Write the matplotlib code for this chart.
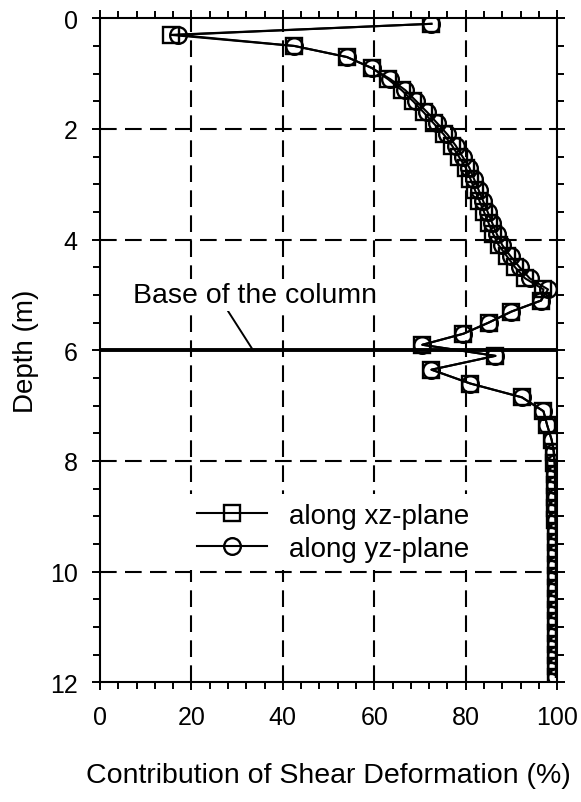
import numpy as np
import matplotlib
matplotlib.use("Agg")
import matplotlib.pyplot as plt
from matplotlib.ticker import MultipleLocator

plt.rcParams['font.family'] = ['Liberation Sans', 'DejaVu Sans']

# --- Data ---
depth = [0.1, 0.3, 0.5, 0.7, 0.9, 1.1, 1.3, 1.5, 1.7, 1.9,
         2.1, 2.3, 2.5, 2.7, 2.9, 3.1, 3.3, 3.5, 3.7, 3.9,
         4.1, 4.3, 4.5, 4.7, 4.9, 5.1, 5.3, 5.5, 5.7, 5.9,
         6.1, 6.35, 6.6, 6.85, 7.1, 7.35,
         7.62, 7.83, 8.03, 8.24, 8.44, 8.65, 8.85, 9.06, 9.26, 9.47,
         9.67, 9.88, 10.08, 10.29, 10.49, 10.7, 10.9, 11.1, 11.3, 11.5,
         11.7, 11.9]

shear_xz = [72.5, 15.5, 42.5, 54.0, 59.5, 63.0, 66.0, 68.5, 70.8, 73.0,
            75.2, 77.0, 78.5, 80.0, 81.0, 82.0, 83.0, 84.0, 85.0, 86.0,
            87.2, 89.0, 90.8, 93.0, 97.0, 96.5, 90.0, 85.0, 79.5, 70.5,
            86.5, 72.5, 81.0, 92.3, 97.0, 97.8,
            98.8, 99.2, 99.4, 99.5, 99.5, 99.6, 99.6, 99.6, 99.7, 99.7,
            99.7, 99.7, 99.7, 99.7, 99.7, 99.7, 99.7, 99.7, 99.7, 99.7,
            99.7, 99.7]

shear_yz = [72.5, 17.0, 42.5, 54.0, 59.5, 63.5, 66.8, 69.2, 71.6, 73.8,
            76.0, 77.8, 79.3, 80.8, 81.8, 82.8, 83.8, 84.8, 85.8, 86.8,
            88.0, 89.8, 91.8, 94.0, 98.0, 96.5, 90.0, 85.0, 79.5, 70.5,
            86.5, 72.5, 81.0, 92.3, 97.0, 97.8,
            98.8, 99.3, 99.5, 99.6, 99.6, 99.7, 99.7, 99.7, 99.8, 99.8,
            99.8, 99.8, 99.8, 99.8, 99.8, 99.8, 99.8, 99.8, 99.8, 99.8,
            99.8, 99.8]

column_base = 6.0

fig = plt.figure(figsize=(5.81, 8.03), dpi=100)
ax = fig.add_axes([0.172, 0.149, 0.787, 0.827])

# dashed grid at major ticks
for gx in [20, 40, 60, 80]:
    ax.axvline(gx, color='black', lw=1.5, ls=(0, (8, 4)), zorder=1)
for gy in [2, 4, 8, 10]:
    ax.axhline(gy, color='black', lw=1.5, ls=(0, (8, 4)), zorder=1)

# base of the column
ax.axhline(column_base, color='black', lw=2.8, zorder=2)

ax.plot(shear_xz, depth, color='black', lw=1.5, marker='s', ms=12,
        mfc='none', mec='black', mew=1.7, label='along xz-plane', zorder=3)
ax.plot(shear_yz, depth, color='black', lw=1.5, marker='o', ms=12,
        mfc='none', mec='black', mew=1.7, label='along yz-plane', zorder=3)

ax.annotate('Base of the column', xy=(33.5, column_base), xytext=(7.3, 5.0),
            fontsize=20.5, va='center', ha='left', zorder=2.5,
            bbox=dict(boxstyle='square,pad=0.1', fc='white', ec='none'),
            arrowprops=dict(arrowstyle='-', color='black', lw=1.4,
                            shrinkA=0, shrinkB=0, relpos=(0.38, 0.0)))

ax.set_xlim(0, 100)
ax.set_ylim(12, 0)
ax.xaxis.set_major_locator(MultipleLocator(20))
ax.xaxis.set_minor_locator(MultipleLocator(4))
ax.yaxis.set_major_locator(MultipleLocator(2))
ax.yaxis.set_minor_locator(MultipleLocator(0.5))
ax.tick_params(which='major', direction='inout', length=12, width=1.4,
               top=True, right=True, labelsize=18, pad=10)
ax.tick_params(which='minor', direction='out', length=5, width=1.4,
               top=True, right=True)
for sp in ax.spines.values():
    sp.set_linewidth(1.5)

ax.set_xlabel('Contribution of Shear Deformation (%)', fontsize=20.5, labelpad=24)
ax.set_ylabel('Depth (m)', fontsize=20, labelpad=8)

leg = ax.legend(loc='center left', bbox_to_anchor=(0.195, 0.226), frameon=True,
                fontsize=20, handlelength=2.5, handletextpad=0.8,
                labelspacing=0.25, borderpad=0.3, borderaxespad=0.0,
                fancybox=False)
leg.get_frame().set_edgecolor('none')
leg.get_frame().set_facecolor('white')
leg.get_frame().set_alpha(1.0)

fig.savefig('out.png', dpi=100)
